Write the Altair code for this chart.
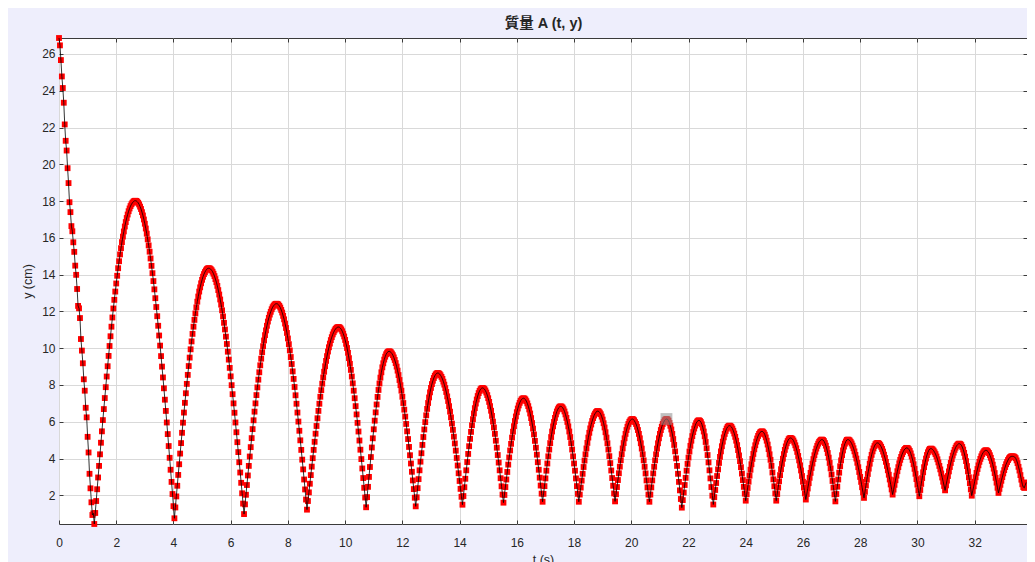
import altair as alt
import pandas as pd

# ---------------- data ----------------
FRAME_RATE = 30.0  # samples per second of the tracked video

# release from the top and first fall
y_release = [26.87, 26.47, 25.67, 24.78, 24.15, 23.35, 22.17, 21.28, 20.75, 19.79,
             18.98, 17.94, 17.40, 16.64, 16.36, 15.76, 15.24, 14.49, 13.99, 13.22,
             12.30, 12.17, 11.64, 10.50, 9.87, 9.18, 8.31, 7.69, 6.76, 6.24,
             5.18, 4.33, 3.17, 2.38, 1.62, 0.93, 1.02, 0.44]

y_swing_01_02 = [
    1.04, 1.69, 2.33, 2.97, 3.60, 4.23, 4.86, 5.48, 6.09, 6.69,
    7.29, 7.88, 8.46, 9.02, 9.58, 10.12, 10.65, 11.17, 11.67, 12.16,
    12.63, 13.08, 13.52, 13.94, 14.35, 14.73, 15.10, 15.44, 15.77, 16.07,
    16.35, 16.62, 16.86, 17.08, 17.27, 17.45, 17.60, 17.73, 17.83, 17.91,
    17.97, 18.01, 18.02,
    18.01, 17.97, 17.91, 17.82, 17.70, 17.57, 17.40, 17.22, 17.00, 16.77,
    16.51, 16.23, 15.92, 15.59, 15.25, 14.88, 14.48, 14.08, 13.65, 13.20,
    12.72, 12.24, 11.74, 11.22, 10.69, 10.14, 9.57, 9.00, 8.41, 7.82,
    7.20, 6.59, 5.96, 5.33, 4.68, 4.04, 3.39, 2.73, 2.07, 1.41, 0.75,
    1.34, 1.94, 2.52, 3.11, 3.69, 4.27, 4.84, 5.40, 5.95, 6.50,
    7.03, 7.55, 8.06, 8.55, 9.03, 9.49, 9.94, 10.37, 10.78, 11.17,
    11.54, 11.89, 12.22, 12.53, 12.81, 13.08, 13.31, 13.53, 13.72, 13.89,
    14.03, 14.14, 14.23, 14.30, 14.34, 14.35,
    14.34, 14.30, 14.24, 14.16, 14.05, 13.92, 13.76, 13.59, 13.39, 13.16,
    12.92, 12.65, 12.37, 12.06, 11.73, 11.38, 11.02, 10.63, 10.23, 9.81,
    9.38, 8.93, 8.47, 7.99, 7.50, 7.00, 6.49, 5.96, 5.43, 4.89,
    4.35, 3.80, 3.24, 2.68, 2.11, 1.55, 0.98,
]

y_swing_03_04 = [
    1.51, 2.03, 2.56, 3.08, 3.60, 4.11, 4.62, 5.11, 5.60, 6.08,
    6.55, 7.00, 7.45, 7.87, 8.29, 8.69, 9.07, 9.43, 9.78, 10.11,
    10.42, 10.71, 10.97, 11.22, 11.45, 11.65, 11.83, 11.98, 12.12, 12.23,
    12.31, 12.37, 12.41, 12.42,
    12.41, 12.37, 12.30, 12.21, 12.08, 11.94, 11.76, 11.57, 11.34, 11.10,
    10.83, 10.53, 10.22, 9.88, 9.52, 9.14, 8.74, 8.33, 7.89, 7.44,
    6.98, 6.50, 6.01, 5.51, 4.99, 4.47, 3.94, 3.41, 2.86, 2.32, 1.77, 1.22,
    1.69, 2.16, 2.63, 3.10, 3.56, 4.02, 4.47, 4.91, 5.35, 5.77,
    6.19, 6.59, 6.98, 7.36, 7.72, 8.07, 8.41, 8.72, 9.02, 9.31,
    9.57, 9.82, 10.05, 10.25, 10.44, 10.60, 10.75, 10.87, 10.97, 11.05,
    11.11, 11.14, 11.15,
    11.14, 11.09, 11.02, 10.92, 10.79, 10.64, 10.45, 10.24, 10.01, 9.75,
    9.46, 9.15, 8.82, 8.46, 8.09, 7.69, 7.28, 6.85, 6.40, 5.94,
    5.47, 4.98, 4.48, 3.97, 3.46, 2.94, 2.41, 1.88, 1.35,
]

y_swing_05_07 = [
    1.90, 2.46, 3.00, 3.54, 4.08, 4.60, 5.10, 5.59, 6.06, 6.51,
    6.94, 7.35, 7.73, 8.08, 8.40, 8.69, 8.96, 9.18, 9.38, 9.54,
    9.67, 9.76, 9.81, 9.83,
    9.82, 9.78, 9.71, 9.62, 9.50, 9.36, 9.19, 9.00, 8.78, 8.54,
    8.27, 7.99, 7.69, 7.36, 7.02, 6.66, 6.28, 5.88, 5.48, 5.06,
    4.63, 4.18, 3.73, 3.28, 2.81, 2.34, 1.87, 1.40,
    1.89, 2.39, 2.88, 3.36, 3.83, 4.29, 4.74, 5.17, 5.58, 5.98,
    6.35, 6.70, 7.02, 7.32, 7.60, 7.84, 8.05, 8.23, 8.38, 8.50,
    8.58, 8.63, 8.65,
    8.64, 8.60, 8.53, 8.44, 8.33, 8.18, 8.02, 7.83, 7.62, 7.38,
    7.13, 6.85, 6.55, 6.24, 5.90, 5.56, 5.19, 4.82, 4.43, 4.03,
    3.62, 3.20, 2.78, 2.35, 1.92, 1.49,
    1.96, 2.44, 2.90, 3.36, 3.81, 4.25, 4.67, 5.07, 5.45, 5.81,
    6.14, 6.45, 6.74, 6.99, 7.21, 7.40, 7.56, 7.68, 7.77, 7.82, 7.84,
    7.82, 7.78, 7.70, 7.59, 7.45, 7.28, 7.08, 6.85, 6.60, 6.32,
    6.01, 5.69, 5.34, 4.97, 4.59, 4.19, 3.78, 3.36, 2.93, 2.49, 2.04, 1.60,
]

y_swing_08_11 = [
    2.02, 2.45, 2.86, 3.27, 3.67, 4.06, 4.44, 4.80, 5.14, 5.46,
    5.76, 6.04, 6.29, 6.52, 6.72, 6.89, 7.03, 7.14, 7.22, 7.26, 7.28,
    7.26, 7.21, 7.12, 7.00, 6.85, 6.67, 6.45, 6.20, 5.93, 5.63,
    5.31, 4.96, 4.59, 4.21, 3.80, 3.39, 2.96, 2.53, 2.09, 1.65,
    2.08, 2.50, 2.92, 3.34, 3.73, 4.12, 4.49, 4.84, 5.17, 5.47,
    5.75, 5.99, 6.21, 6.40, 6.56, 6.68, 6.77, 6.82, 6.84,
    6.82, 6.77, 6.68, 6.56, 6.40, 6.21, 5.99, 5.75, 5.47, 5.17,
    4.84, 4.49, 4.12, 3.73, 3.34, 2.92, 2.50, 2.08, 1.65,
    2.04, 2.42, 2.80, 3.17, 3.54, 3.89, 4.23, 4.55, 4.85, 5.14,
    5.40, 5.64, 5.85, 6.04, 6.20, 6.34, 6.44, 6.52, 6.57, 6.58,
    6.56, 6.50, 6.41, 6.28, 6.12, 5.92, 5.69, 5.43, 5.14, 4.83,
    4.49, 4.13, 3.75, 3.35, 2.94, 2.52, 2.10, 1.67,
    2.06, 2.45, 2.83, 3.20, 3.56, 3.91, 4.24, 4.55, 4.84, 5.10,
    5.34, 5.55, 5.73, 5.88, 6.00, 6.08, 6.13, 6.15,
    6.13, 6.08, 5.98, 5.88, 5.73, 5.55, 5.34, 5.10, 4.83, 4.54,
    4.23, 3.90, 3.55, 3.19, 2.81, 2.43, 2.04, 1.65,
]

y_swing_12_15 = [
    2.04, 2.43, 2.81, 3.19, 3.55, 3.90, 4.23, 4.54, 4.83, 5.10,
    5.34, 5.55, 5.73, 5.88, 5.98, 6.08, 6.13, 6.15,
    6.13, 6.06, 5.94, 5.78, 5.58, 5.34, 5.06, 4.74, 4.39, 4.01,
    3.60, 3.17, 2.73, 2.27, 1.80, 1.33,
    1.74, 2.15, 2.56, 2.95, 3.34, 3.71, 4.05, 4.38, 4.69, 4.97,
    5.22, 5.44, 5.63, 5.79, 5.92, 6.01, 6.06, 6.08,
    6.05, 5.98, 5.86, 5.68, 5.47, 5.21, 4.90, 4.56, 4.19, 3.79,
    3.36, 2.92, 2.45, 1.98, 1.50,
    1.90, 2.29, 2.67, 3.05, 3.41, 3.76, 4.09, 4.39, 4.67, 4.92,
    5.15, 5.34, 5.50, 5.63, 5.72, 5.77, 5.79,
    5.77, 5.72, 5.63, 5.51, 5.36, 5.18, 4.97, 4.73, 4.46, 4.17,
    3.86, 3.53, 3.18, 2.83, 2.46, 2.09, 1.71,
    2.06, 2.40, 2.74, 3.07, 3.39, 3.69, 3.98, 4.25, 4.50, 4.72,
    4.92, 5.09, 5.23, 5.34, 5.42, 5.46, 5.48,
    5.46, 5.40, 5.30, 5.15, 4.97, 4.76, 4.51, 4.23, 3.93, 3.60,
    3.24, 2.87, 2.49, 2.10, 1.71,
]

y_swing_16_19 = [
    2.07, 2.42, 2.76, 3.10, 3.42, 3.71, 3.99, 4.24, 4.47, 4.66,
    4.83, 4.95, 5.05, 5.10, 5.12,
    5.10, 5.06, 4.98, 4.87, 4.72, 4.56, 4.36, 4.14, 3.90, 3.63,
    3.35, 3.05, 2.74, 2.42, 2.10, 1.77,
    2.07, 2.37, 2.66, 2.95, 3.22, 3.49, 3.73, 3.97, 4.18, 4.37,
    4.54, 4.69, 4.81, 4.91, 4.97, 5.02, 5.03,
    5.01, 4.95, 4.84, 4.70, 4.52, 4.30, 4.05, 3.76, 3.46, 3.13,
    2.78, 2.42, 2.05, 1.67,
    2.07, 2.47, 2.86, 3.23, 3.58, 3.90, 4.18, 4.44, 4.65, 4.81,
    4.93, 5.01, 5.03,
    5.02, 4.98, 4.91, 4.82, 4.70, 4.56, 4.39, 4.20, 4.00, 3.77,
    3.53, 3.27, 3.00, 2.73, 2.44, 2.15, 1.86,
    2.19, 2.53, 2.85, 3.16, 3.45, 3.72, 3.97, 4.20, 4.39, 4.55,
    4.68, 4.78, 4.83, 4.85,
    4.84, 4.80, 4.73, 4.64, 4.52, 4.38, 4.21, 4.03, 3.82, 3.60,
    3.36, 3.12, 2.86, 2.59, 2.32, 2.04,
]

y_swing_20_24 = [
    2.31, 2.57, 2.82, 3.07, 3.31, 3.53, 3.74, 3.93, 4.09, 4.24,
    4.36, 4.46, 4.52, 4.57, 4.58,
    4.56, 4.50, 4.41, 4.28, 4.11, 3.92, 3.69, 3.44, 3.17, 2.88,
    2.58, 2.27, 1.95,
    2.29, 2.62, 2.94, 3.25, 3.53, 3.78, 4.00, 4.19, 4.34, 4.45,
    4.52, 4.54,
    4.53, 4.49, 4.43, 4.34, 4.24, 4.11, 3.96, 3.79, 3.60, 3.41,
    3.19, 2.97, 2.74, 2.51, 2.27,
    2.54, 2.80, 3.05, 3.30, 3.54, 3.76, 3.97, 4.16, 4.32, 4.47,
    4.59, 4.69, 4.75, 4.80, 4.81,
    4.79, 4.73, 4.63, 4.49, 4.31, 4.10, 3.86, 3.59, 3.30, 2.98,
    2.66, 2.32, 1.98,
    2.24, 2.49, 2.74, 2.98, 3.22, 3.43, 3.63, 3.82, 3.98, 4.12,
    4.24, 4.33, 4.40, 4.44, 4.45,
    4.43, 4.38, 4.30, 4.18, 4.04, 3.87, 3.67, 3.45, 3.21, 2.95,
    2.69, 2.41, 2.13,
    2.35, 2.57, 2.79, 2.99, 3.19, 3.37, 3.54, 3.69, 3.81, 3.92,
    4.01, 4.07, 4.11, 4.12,
    4.12, 4.11, 4.08, 4.02, 3.90, 3.75, 3.55, 3.35, 3.10, 2.85,
    2.60, 2.45, 2.40, 2.55, 2.70,
]

# data tip marker shown on the reference
tip_t = [21.23]
tip_y = [6.15]

x_tick_values = [0, 2, 4, 6, 8, 10, 12, 14, 16, 18, 20, 22, 24, 26, 28, 30, 32]
y_tick_values = [2, 4, 6, 8, 10, 12, 14, 16, 18, 20, 22, 24, 26]

x_domain = [0, 33.83]
y_domain = [0.44, 26.87]

chart_title = "質量 A (t, y)"

# ---------------- build table ----------------
y_all = (y_release + y_swing_01_02 + y_swing_03_04 + y_swing_05_07 +
         y_swing_08_11 + y_swing_12_15 + y_swing_16_19 + y_swing_20_24)
df = pd.DataFrame({
    "t": [i / FRAME_RATE for i in range(len(y_all))],
    "y": y_all,
})
tip_df = pd.DataFrame({"t": tip_t, "y": tip_y})

W, H = 968, 486
FONT = "Liberation Sans, Arial, Helvetica, sans-serif"
TXT = "#262626"
FRAME = "#3a3a3a"

xs = alt.Scale(domain=x_domain, nice=False, zero=False)
ys = alt.Scale(domain=y_domain, nice=False, zero=False)

x_main_axis = alt.Axis(
    orient="bottom", values=x_tick_values, grid=True, gridColor="#D9D9D9",
    gridWidth=1, ticks=False, tickSize=0, domain=False, labelPadding=13,
    labelFont=FONT, labelFontSize=12, labelColor=TXT, labelFlush=False,
    labelOverlap=False, title="t (s)", titleFont=FONT, titleFontSize=12.5,
    titleFontWeight="normal", titleColor=TXT, titlePadding=5,
)
y_main_axis = alt.Axis(
    orient="left", values=y_tick_values, grid=True, gridColor="#D9D9D9",
    gridWidth=1, ticks=False, tickSize=0, domain=False, labelPadding=4,
    labelFont=FONT, labelFontSize=12, labelColor=TXT, labelOverlap=False,
    title="y (cm)", titleFont=FONT, titleFontSize=12.5,
    titleFontWeight="normal", titleColor=TXT, titlePadding=7,
)
# the plot title is carried by a label-less top axis, centred over the frame
title_axis = alt.Axis(
    orient="top", values=x_tick_values, ticks=False, labels=False,
    domain=False, grid=False, title=chart_title,
    titleFont="Liberation Sans, Noto Sans CJK TC, sans-serif",
    titleFontSize=14.5, titleFontWeight="bold", titleColor=TXT,
    titlePadding=8, minExtent=0, maxExtent=0,
)


def tick_axis(orient, values, offset):
    # inward-pointing tick marks (MATLAB style) drawn from the frame edge
    return alt.Axis(orient=orient, values=values, offset=offset, tickSize=4,
                    ticks=True, tickColor=FRAME, tickWidth=1, labels=False,
                    domain=False, grid=False, title=None,
                    minExtent=0, maxExtent=0)


base = alt.Chart(df)

points = base.mark_square(size=34, color="#FF0000", opacity=1).encode(
    x=alt.X("t:Q", scale=xs, axis=None),
    y=alt.Y("y:Q", scale=ys, axis=None),
)
line = base.mark_line(color="black", strokeWidth=0.8).encode(
    x=alt.X("t:Q", scale=xs, axis=x_main_axis),
    y=alt.Y("y:Q", scale=ys, axis=y_main_axis),
)
tip = alt.Chart(tip_df).mark_square(size=140, color="#8c8c8c", opacity=0.55).encode(
    x=alt.X("t:Q", scale=xs, axis=None),
    y=alt.Y("y:Q", scale=ys, axis=None),
)


def guide_layer(x_axis, y_axis):
    return alt.Chart(tip_df).mark_point(opacity=0).encode(
        x=alt.X("t:Q", scale=xs, axis=x_axis),
        y=alt.Y("y:Q", scale=ys, axis=y_axis),
    )


title_layer = guide_layer(title_axis, None)
ticks_bottom = guide_layer(tick_axis("bottom", x_tick_values, -4), None)
ticks_top = guide_layer(tick_axis("bottom", x_tick_values, -H), None)
ticks_left = guide_layer(None, tick_axis("left", y_tick_values, -4))
ticks_right = guide_layer(None, tick_axis("left", y_tick_values, -W))

chart = (
    alt.layer(points, line, tip, title_layer, ticks_bottom, ticks_top,
              ticks_left, ticks_right)
    .resolve_axis(x="independent", y="independent")
    .properties(
        width=W,
        height=H,
        background="#EEEEFC",
        padding={"left": 51, "top": 30, "right": 0, "bottom": 40},
        autosize=alt.AutoSizeParams(type="none"),
    )
    .configure_view(stroke=FRAME, strokeWidth=1, fill="white")
)

chart.save("out.html", embed_options={"renderer": "svg", "actions": False})
